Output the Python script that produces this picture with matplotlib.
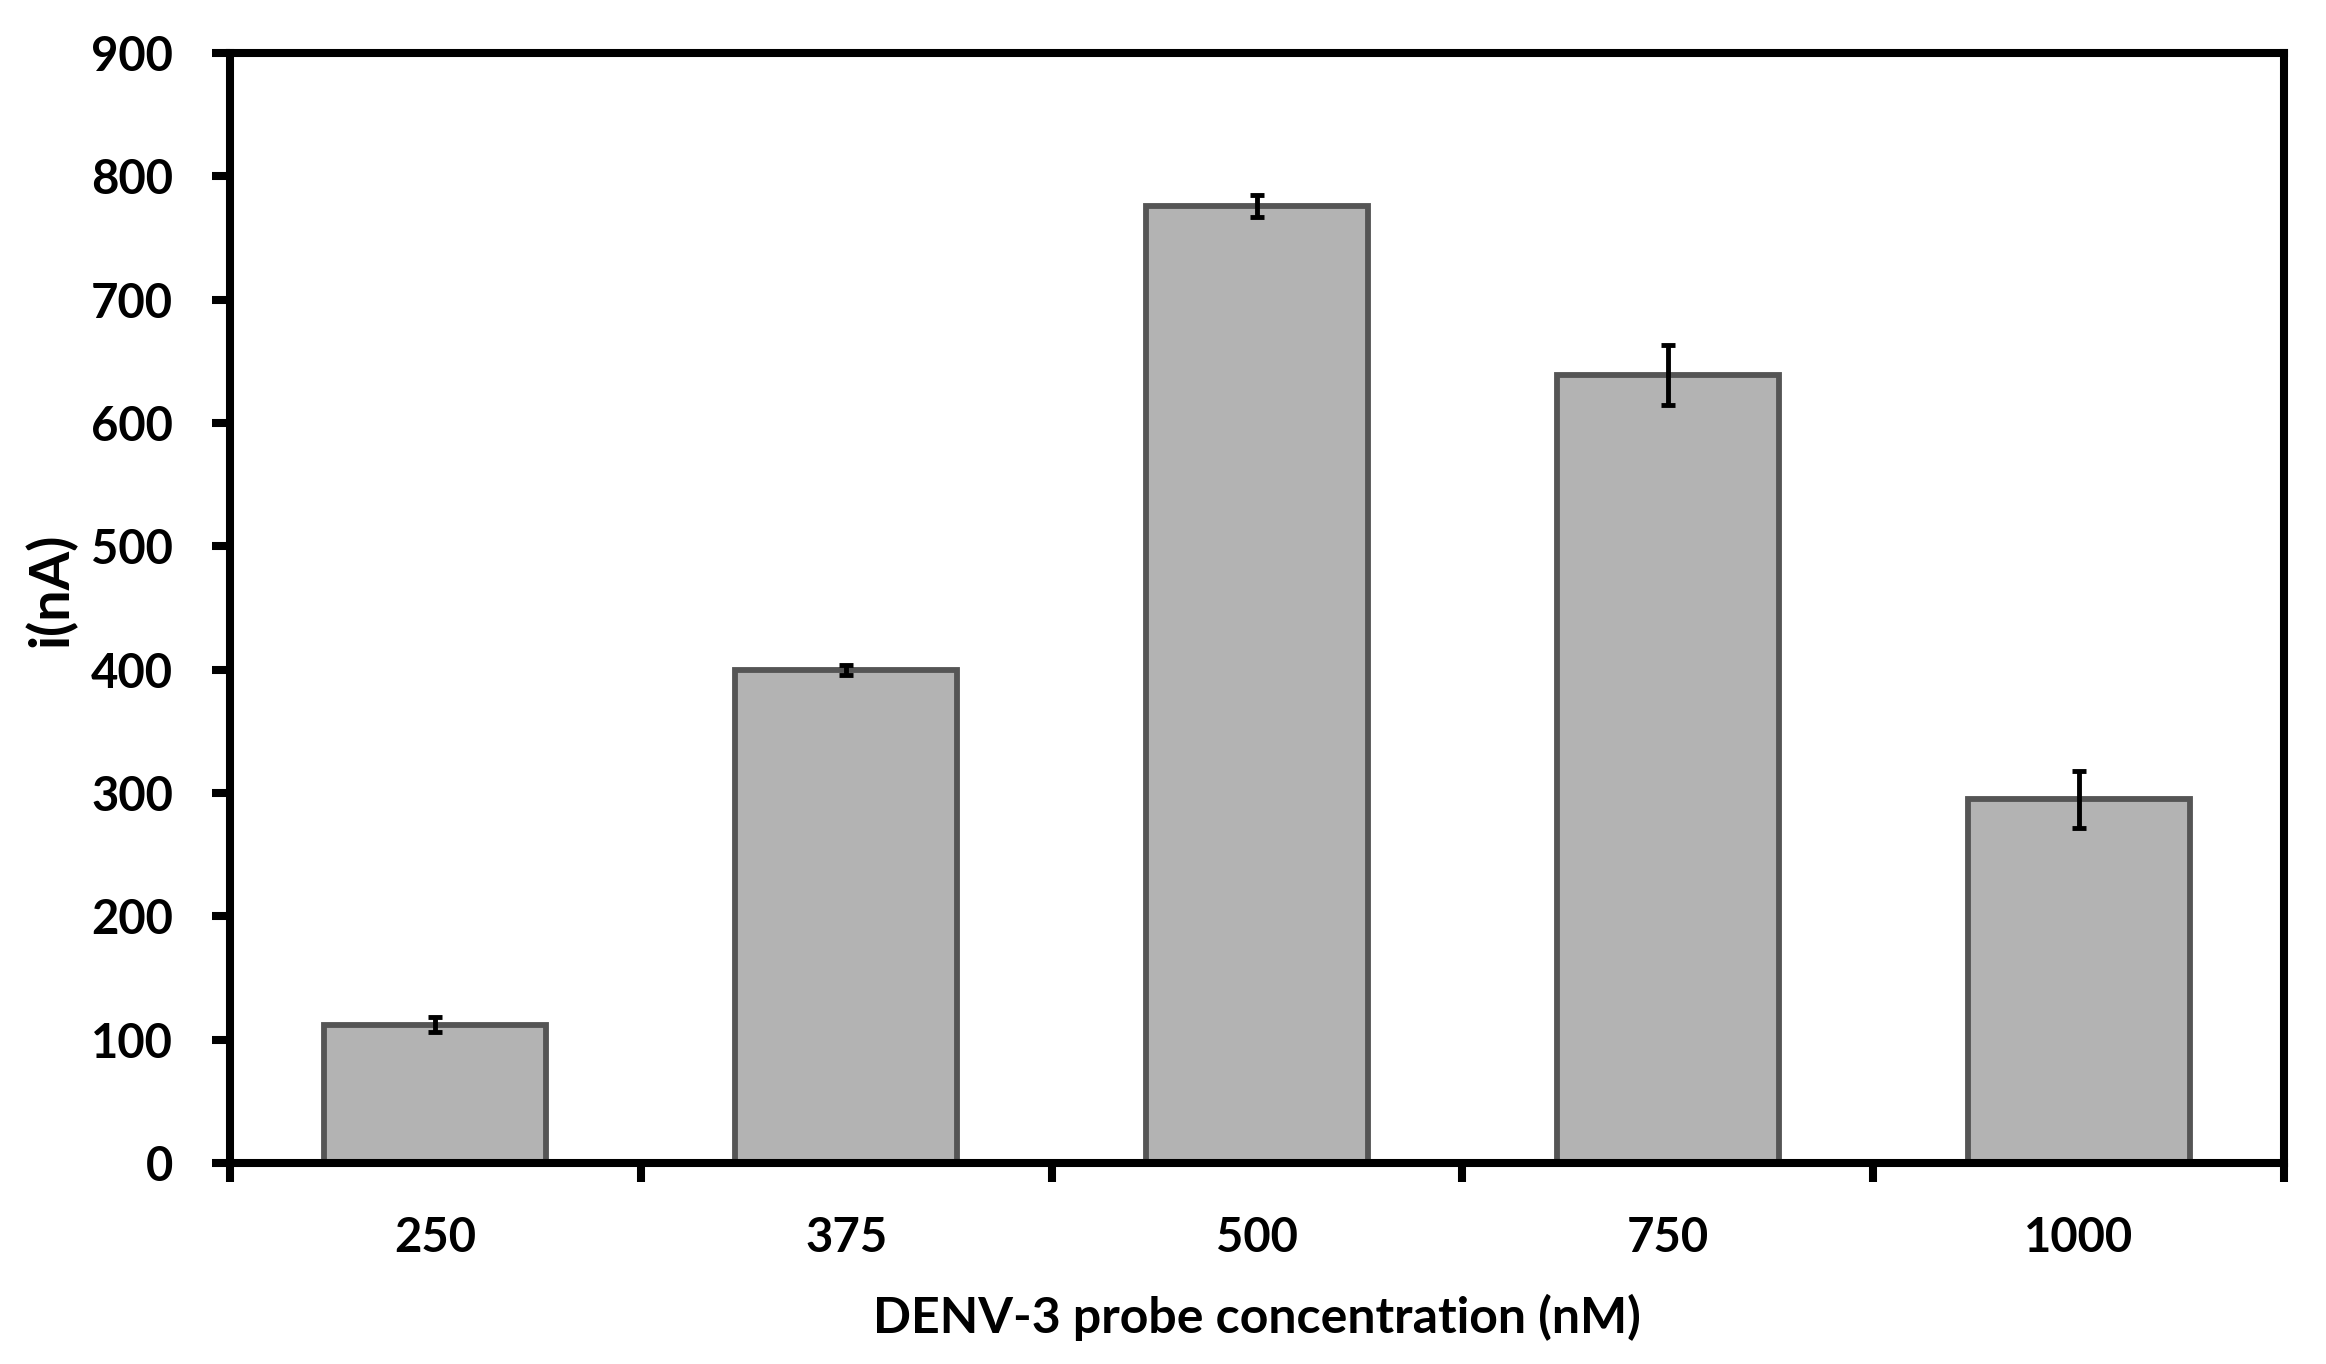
import matplotlib
matplotlib.use("Agg")
import matplotlib.pyplot as plt
import numpy as np

categories = ["250", "375", "500", "750", "1000"]
values = [112, 400, 776, 639, 295]
errors = [6, 4, 9, 24, 23]
yticks = [0, 100, 200, 300, 400, 500, 600, 700, 800, 900]

plt.rcParams['font.family'] = ['Lato', 'DejaVu Sans']

W, H = 2326, 1364
dpi = 100
fig = plt.figure(figsize=(W / dpi, H / dpi), dpi=dpi)
left, right, top, bottom = 230, 2284, 53, 1163
ax = fig.add_axes([left / W, 1 - bottom / H, (right - left) / W, (bottom - top) / H])

x = np.arange(len(categories))
ax.bar(x, values, width=0.54, color="#b3b3b3", edgecolor="#555555", linewidth=4.2, zorder=2)
ax.errorbar(x, values, yerr=errors, fmt="none", ecolor="black", elinewidth=3.5,
            capsize=5, capthick=3.5, zorder=3)

ax.set_xlim(-0.5, len(categories) - 0.5)
ax.set_ylim(0, 900)
ax.set_yticks(yticks)
ax.set_yticklabels([str(v) for v in yticks], fontsize=34, fontweight="bold")

ax.set_xticks(np.arange(-0.5, len(categories), 1.0))
ax.set_xticklabels([])
ax.set_xticks(x, minor=True)
ax.set_xticklabels(categories, minor=True, fontsize=34, fontweight="bold")

ax.tick_params(axis="y", which="major", direction="out", length=13, width=5.8, pad=28)
ax.tick_params(axis="x", which="major", direction="out", length=13.5, width=5.8)
ax.tick_params(axis="x", which="minor", length=0, pad=38)

for s in ax.spines.values():
    s.set_linewidth(5.8)
    s.set_color("black")

ax.set_ylabel("i(nA)", fontsize=40, fontweight="bold")
ax.yaxis.set_label_coords(-0.0745, 0.516)
ax.set_xlabel("DENV-3 probe concentration (nM)", fontsize=36, fontweight="bold")
ax.xaxis.set_label_coords(0.5, -0.118)

fig.savefig("out.png", dpi=dpi, facecolor="white")
